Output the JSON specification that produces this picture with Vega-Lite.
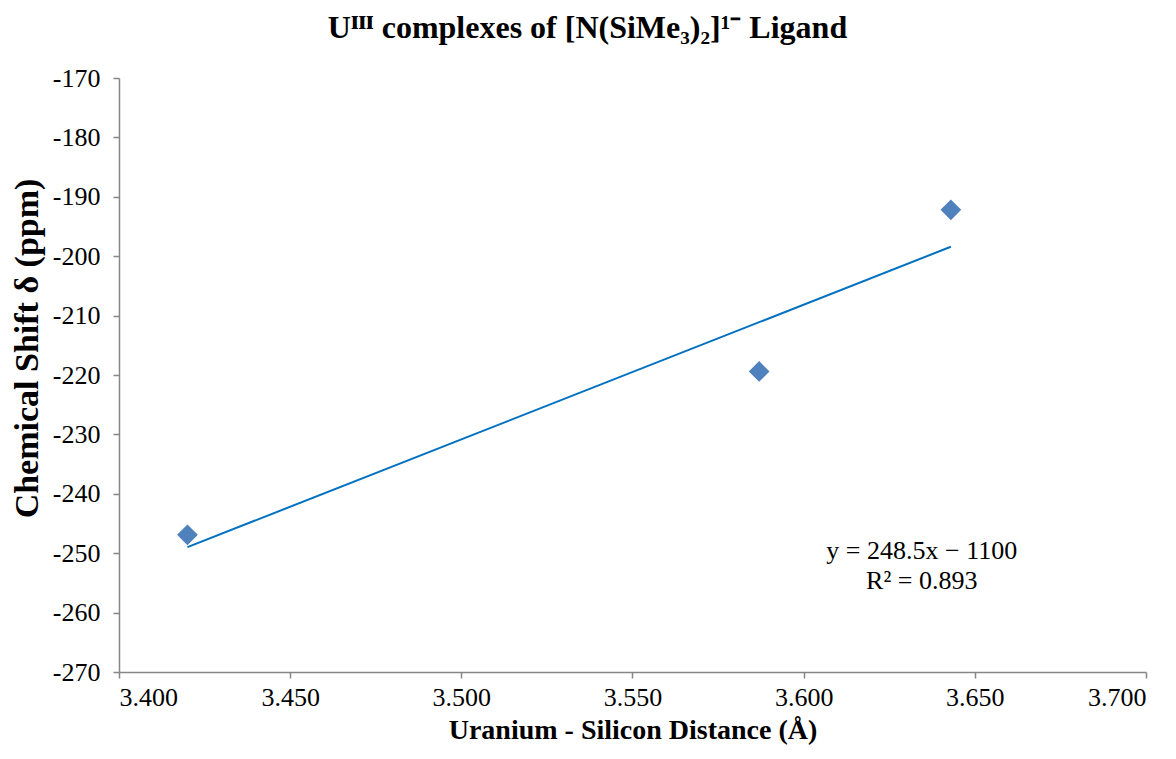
{
  "$schema": "https://vega.github.io/schema/vega-lite/v6.json",
  "width": 1027,
  "height": 594,
  "autosize": {"type": "none"},
  "padding": {"left": 119, "top": 78, "right": 30, "bottom": 87},
  "background": "white",
  "title": {
    "text": "Uᴵᴵᴵ complexes of [N(SiMe₃)₂]¹⁻ Ligand",
    "font": "Liberation Serif",
    "fontSize": 32,
    "fontWeight": "bold",
    "color": "#000000",
    "anchor": "middle",
    "dx": -45,
    "offset": 20
  },
  "config": {
    "view": {"stroke": null},
    "axis": {
      "labelFont": "Liberation Serif",
      "labelFontSize": 26,
      "labelColor": "#000000",
      "titleFont": "Liberation Serif",
      "titleFontWeight": "bold",
      "titleColor": "#000000",
      "domainColor": "#868686",
      "domainWidth": 1.5,
      "tickColor": "#868686",
      "tickWidth": 1.5,
      "tickSize": 6,
      "grid": false
    }
  },
  "data": {
    "values": [
      {"distance": 3.420, "shift": -246.9},
      {"distance": 3.587, "shift": -219.4},
      {"distance": 3.643, "shift": -192.2}
    ]
  },
  "layer": [
    {
      "transform": [{"regression": "shift", "on": "distance"}],
      "mark": {"type": "line", "color": "#0070C0", "strokeWidth": 2},
      "encoding": {
        "x": {"field": "distance", "type": "quantitative"},
        "y": {"field": "shift", "type": "quantitative"}
      }
    },
    {
      "mark": {"type": "point", "shape": "diamond", "filled": true, "color": "#4F81BD", "opacity": 1, "size": 430},
      "encoding": {
        "x": {
          "field": "distance",
          "type": "quantitative",
          "scale": {"domain": [3.4, 3.7], "nice": false, "zero": false},
          "axis": {
            "title": "Uranium - Silicon Distance (Å)",
            "titleFontSize": 28,
            "values": [3.4, 3.45, 3.5, 3.55, 3.6, 3.65, 3.7],
            "format": ".3f",
            "labelPadding": 6,
            "titlePadding": 6
          }
        },
        "y": {
          "field": "shift",
          "type": "quantitative",
          "scale": {"domain": [-270, -170], "nice": false, "zero": false},
          "axis": {
            "title": "Chemical Shift δ (ppm)",
            "titleFontSize": 34,
            "titleY": 270,
            "values": [-270, -260, -250, -240, -230, -220, -210, -200, -190, -180, -170],
            "labelExpr": "'' + datum.value",
            "labelPadding": 13,
            "titlePadding": 8
          }
        }
      }
    },
    {
      "data": {
        "values": [
          {"distance": 3.6345, "shift": -249.6, "label": "y = 248.5x − 1100"},
          {"distance": 3.6345, "shift": -254.7, "label": "R² = 0.893"}
        ]
      },
      "mark": {"type": "text", "font": "Liberation Serif", "fontSize": 26, "color": "#000000", "align": "center", "baseline": "middle"},
      "encoding": {
        "x": {"field": "distance", "type": "quantitative"},
        "y": {"field": "shift", "type": "quantitative"},
        "text": {"field": "label"}
      }
    }
  ]
}
